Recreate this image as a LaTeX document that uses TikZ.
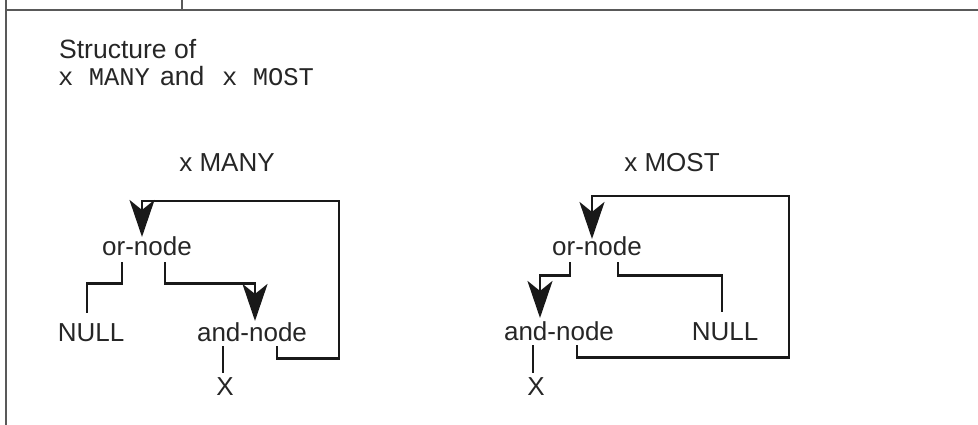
\documentclass[tikz,border=0pt]{standalone}
\usepackage{fontspec}
\setmainfont{Liberation Sans}
\newfontfamily\monofont{Liberation Mono}
\usetikzlibrary{arrows.meta}
\begin{document}
\begin{tikzpicture}[x=1pt,y=-1pt,
  lbl/.style={inner sep=0pt, anchor=base, text depth=0pt, font=\fontsize{26}{30}\selectfont, text=black!85},
  ttl/.style={inner sep=0pt, anchor=base west, text depth=0pt, font=\fontsize{26.5}{30}\selectfont, text=black!85},
  mono/.style={inner sep=0pt, anchor=base west, text depth=0pt, font=\monofont\fontsize{25.5}{30}\selectfont, text=black!85},
  conn/.style={line width=2.7pt, line join=miter, black!90},
  arr/.style={conn, -{Stealth[length=37pt,width=25pt,inset=10pt]}},
  frame/.style={line width=1.3pt, black!65}]
\useasboundingbox (0,0) rectangle (978,425);
% frame
\draw[frame] (6,10) -- (978,10);
\draw[frame] (6,0) -- (6,425);
\draw[frame] (182,0) -- (182,10);
% title
\node[ttl] (t1) at (59,59) {Structure of};
\node[mono] (t2a) at (58,86) {x MANY};
\node[ttl] (t2b) at (160,86) {and};
\node[mono] (t2c) at (222,86) {x MOST};
% left diagram
\node[lbl] (manyL) at (227,172) {x MANY};
\node[lbl] (orL) at (147,255) {or-node};
\node[lbl] (nullL) at (91,341) {NULL};
\node[lbl] (andL) at (252,341) {and-node};
\node[lbl] (xL) at (225,395) {X};
\coordinate (cornerL) at (339,201);
\draw[conn] ([xshift=-25pt,yshift=-7pt]orL.south) -- ++(0,21) -| ([xshift=-4pt,yshift=10pt]nullL.north);
\draw[arr] ([xshift=18pt,yshift=-7pt]orL.south) -- ++(0,21) -| ([xshift=3pt,yshift=1pt]andL.north);
\draw[conn] ([xshift=-29pt,yshift=-5pt]andL.south) -- ([xshift=-2pt,yshift=4pt]xL.north);
\draw[arr] ([xshift=25pt,yshift=-5pt]andL.south) -- ++(0,12) -| (cornerL) -| ([xshift=-5pt,yshift=-1pt]orL.north);
% right diagram
\node[lbl] (mostR) at (672,172) {x MOST};
\node[lbl] (orR) at (597,255) {or-node};
\node[lbl] (andR) at (559,340) {and-node};
\node[lbl] (nullR) at (725,340) {NULL};
\node[lbl] (xR) at (536,395) {X};
\coordinate (cornerR) at (789,196);
\draw[arr] ([xshift=-27pt,yshift=-7pt]orR.south) -- ++(0,13) -| ([xshift=-19pt,yshift=3pt]andR.north);
\draw[conn] ([xshift=21pt,yshift=-7pt]orR.south) -- ++(0,13) -| ([xshift=-3pt,yshift=10pt]nullR.north);
\draw[conn] ([xshift=-26pt,yshift=-5pt]andR.south) -- ([xshift=-3pt,yshift=4pt]xR.north);
\draw[arr] ([xshift=18pt,yshift=-5pt]andR.south) -- ++(0,12) -| (cornerR) -| ([xshift=-5pt,yshift=-3pt]orR.north);
\end{tikzpicture}
\end{document}
